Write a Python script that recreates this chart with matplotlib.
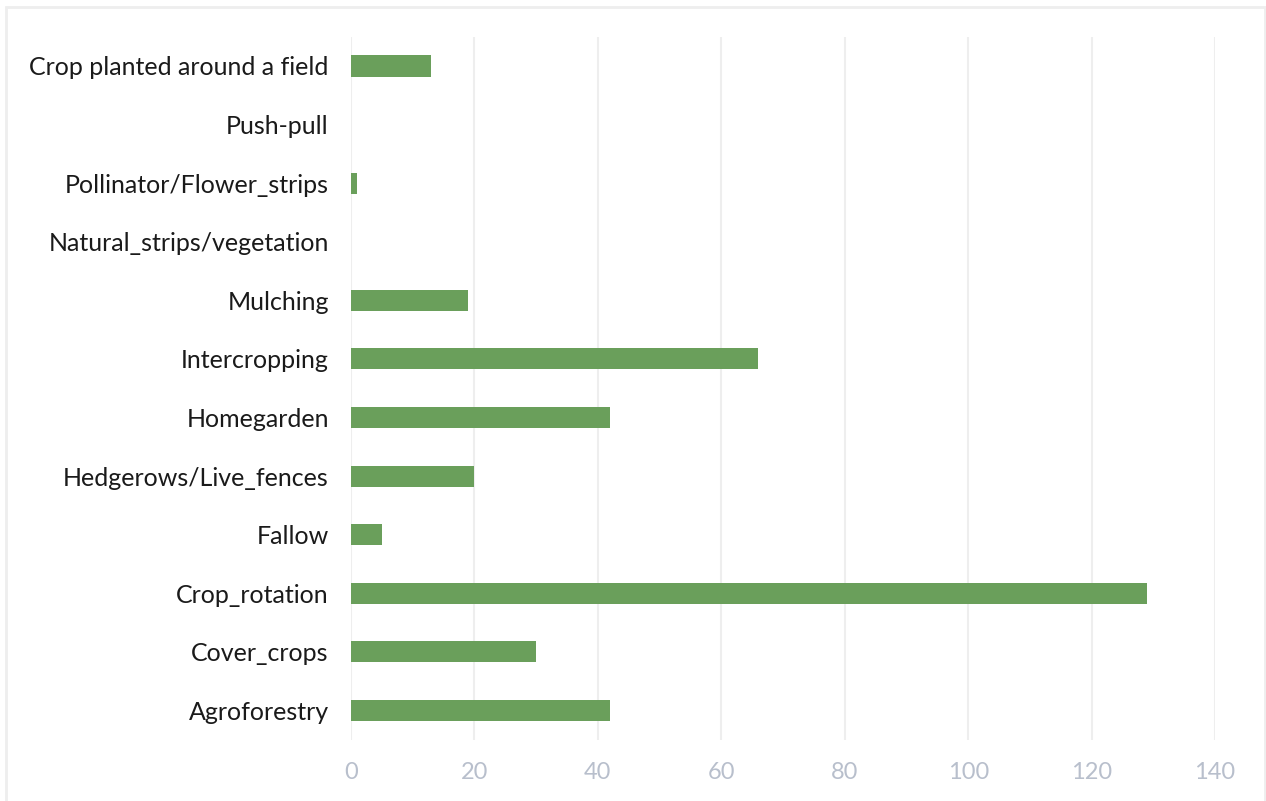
import matplotlib
matplotlib.use("Agg")
import matplotlib.pyplot as plt
from matplotlib.patches import Rectangle

categories = [
    "Agroforestry",
    "Cover_crops",
    "Crop_rotation",
    "Fallow",
    "Hedgerows/Live_fences",
    "Homegarden",
    "Intercropping",
    "Mulching",
    "Natural_strips/vegetation",
    "Pollinator/Flower_strips",
    "Push-pull",
    "Crop planted around a field",
]
counts = [42, 30, 129, 5, 20, 42, 66, 19, 0, 1, 0, 13]
x_ticks = [0, 20, 40, 60, 80, 100, 120, 140]

plt.rcParams["font.family"] = ["Lato", "DejaVu Sans"]

fig = plt.figure(figsize=(12.66, 8.01), dpi=100)
ax = fig.add_axes([0.2773, 0.0764, 0.6824, 0.8778])

ypos = list(range(len(categories)))
ax.barh(ypos, counts, height=0.36, color="#6a9f5b", zorder=3)

ax.set_xlim(0, 140)
ax.set_ylim(-0.5, len(categories) - 0.5)
ax.set_xticks(x_ticks)
ax.set_xticklabels([str(t) for t in x_ticks])
ax.set_yticks(ypos)
ax.set_yticklabels(categories)

ax.grid(axis="x", color="#eeeeee", linewidth=1.5, zorder=0)
ax.grid(axis="y", visible=False)
for s in ax.spines.values():
    s.set_visible(False)

ax.tick_params(axis="x", length=0, pad=16, labelsize=17, labelcolor="#b8bfcc")
ax.tick_params(axis="y", length=0, pad=16, labelsize=18, labelcolor="#1a1a1a")

# light frame around the whole figure
fig.patches.append(Rectangle((6 / 1266, -0.01), (1265 - 6) / 1266, 1 - 7 / 801 + 0.01,
                             transform=fig.transFigure, fill=False,
                             edgecolor="#eeeeee", linewidth=2))

fig.savefig("out.png", dpi=100)
